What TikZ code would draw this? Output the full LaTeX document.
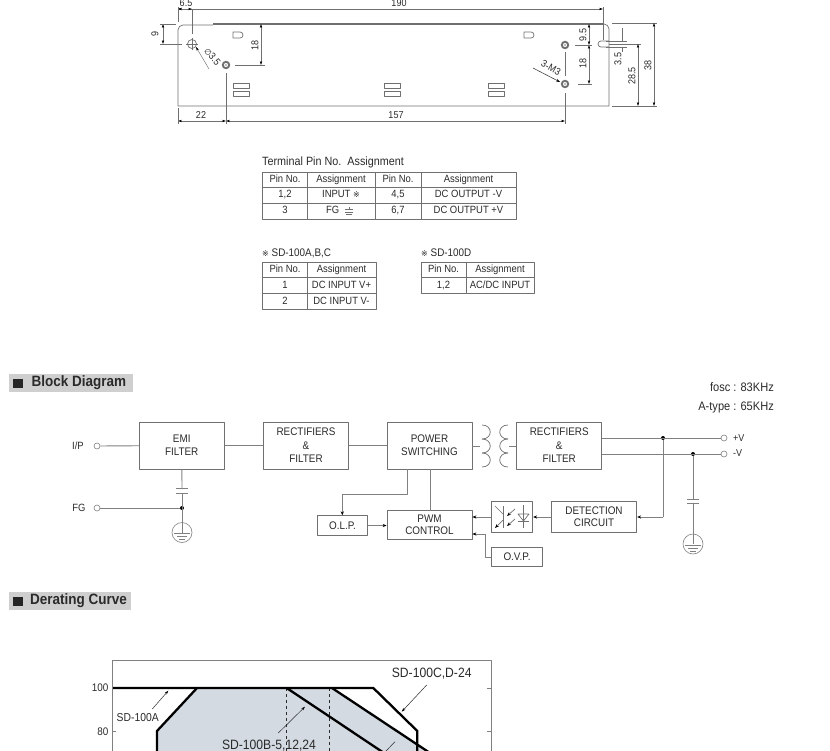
\documentclass[tikz,border=0pt]{standalone}
\usepackage{fontspec}
\setmainfont[FakeStretch=0.9]{Liberation Sans}
\newfontfamily\symfont{DejaVu Sans}
\usepackage{xcolor}
\usetikzlibrary{positioning,arrows.meta}
\definecolor{ink}{HTML}{2A2A2A}
\definecolor{wire}{HTML}{808080}
\definecolor{edge}{HTML}{707070}
\definecolor{bar}{HTML}{CFCFCF}
\definecolor{safe}{HTML}{D3DAE2}
\newcommand{\fsz}[1]{\fontsize{#1}{#1}\selectfont}

\begin{document}
\begin{tikzpicture}[x=1pt, y=-1pt, line join=round]
    % Define styles
    \tikzstyle{block} = [rectangle, draw=edge, text=ink, align=center, inner sep=0pt, font=\fsz{11}, line width=0.8pt]
    \tikzstyle{cell} = [rectangle, draw=edge, text=ink, inner sep=0pt, font=\fsz{10.5}, line width=0.7pt, text height=7.6pt, text depth=2.2pt]
    \tikzstyle{label} = [text=ink, inner sep=0pt, font=\fsz{10.5}]
    \tikzstyle{dimtext} = [text=ink, inner sep=0pt, font=\fsz{10}]
    \tikzstyle{heading} = [rectangle, fill=bar, minimum height=18pt, inner sep=0pt]
    \tikzstyle{terminal} = [circle, draw=wire, fill=white, minimum size=6pt, inner sep=0pt, line width=0.6pt]
    \tikzstyle{dot} = [circle, fill=black, minimum size=4pt, inner sep=0pt]
    \tikzstyle{earth} = [circle, draw=wire, minimum size=20pt, inner sep=0pt, line width=0.6pt]
    \tikzstyle{wireline} = [draw=wire, line width=0.9pt]
    \tikzstyle{arrow} = [wireline, -{Stealth[black, length=4pt, width=3.2pt]}]
    \tikzstyle{sheet} = [draw=edge, line width=0.7pt]
    \tikzstyle{dim} = [draw=edge, line width=0.45pt]
    \tikzstyle{dimarrow} = [dim, {Stealth[black, length=4pt, width=2.4pt]}-{Stealth[black, length=4pt, width=2.4pt]}]
    \tikzstyle{leader} = [draw=ink, line width=0.5pt, -{Stealth[black, length=4pt, width=2.6pt]}]
    \tikzstyle{curve} = [draw=black, line width=2.3pt, line cap=butt, line join=miter]

    \useasboundingbox (0,0) rectangle (830,750);

    % Mechanical outline
    \draw [sheet] (213,25) -- (183,25) arc[start angle=270, end angle=180, radius=5] -- (178,106) -- (609,106) -- (609,29) arc[start angle=0, end angle=-90, radius=5] -- (599,24);
    \draw [draw=edge, line width=1.3pt] (213,24) -- (604,24);
    \draw [sheet] (609,41) -- (601,41) arc[start angle=270, end angle=90, radius=3] -- (609,47);
    \foreach \x in {233,384,488} {
        \draw [sheet] (\x,83) rectangle ++(16,5);
        \draw [sheet] (\x,91) rectangle ++(16,5);
    }
    \foreach \x in {233,524} {
        \draw [sheet] (\x,32) -- (\x+7,32) arc[start angle=-90, end angle=90, radius=3] -- (\x,38) -- cycle;
    }

    % Holes
    \draw [sheet] (192,44) circle (4.5);
    \draw [dim] (186,44) -- (198,44) (192,38) -- (192,50);
    \foreach \x/\y in {226/65,565/45,565/84} {
        \draw [draw=edge, line width=1.9pt] (\x,\y) circle (3.2);
        \fill [edge!60] (\x,\y) circle (1.2);
    }

    % Dimensions
    \draw [dimarrow] (178,9) -- (603,9);
    \draw [dimarrow] (178,9) -- (192,9);
    \draw [dim] (178,7) -- (178,22) (603,7) -- (603,40) (192,9) -- (192,34);
    \node (dimA) [dimtext] at (186,3) {6.5};
    \node (dimB) [dimtext] at (399,3) {190};
    \draw [dimarrow] (163,24) -- (163,44);
    \draw [dim] (160,24) -- (176,24) (160,44) -- (182,44);
    \node (dimC) [dimtext, rotate=90] at (155,34) {9};
    \draw [dimarrow] (261,24) -- (261,65);
    \draw [dim] (235,65) -- (265,65);
    \node (dimD) [dimtext, rotate=90] at (255,45) {18};
    \draw [dim, {Stealth[black, length=4pt, width=2.4pt]}-] (196,47) -- (209,69);
    \node (dimE) [dimtext, rotate=-50] at (212.5,56.5) {{\symfont\fsz{8}∅}3.5};
    \draw [dimarrow] (178,121) -- (226,121);
    \draw [dimarrow] (226,121) -- (565,121);
    \draw [dim] (178,108) -- (178,124) (226,73) -- (226,124) (565,52) -- (565,76) (565,93) -- (565,124);
    \node (dimF) [dimtext] at (201,115) {22};
    \node (dimG) [dimtext] at (396,115) {157};
    \draw [dimarrow] (589,24) -- (589,45);
    \draw [dimarrow] (589,45) -- (589,84);
    \draw [dim] (575,45) -- (592,45) (578,84) -- (592,84);
    \node (dimH) [dimtext, rotate=90] at (583,35) {9.5};
    \node (dimI) [dimtext, rotate=90] at (583,63) {18};
    \draw [leader] (533,68) -- (560,82);
    \node (dimJ) [dimtext, rotate=-30] at (551,68) {3-M3};
    \draw [dim] (622.5,28) -- (622.5,41) (622.5,47) -- (622.5,52);
    \draw [dim] (606,41) -- (627,41) (606,47) -- (627,47);
    \node (dimK) [dimtext, rotate=90] at (618,59) {3.5};
    \draw [dim] (609,44) -- (641,44);
    \draw [dimarrow] (638,44) -- (638,106);
    \node (dimL) [dimtext, rotate=90] at (632,76) {28.5};
    \draw [dim] (612,23) -- (657,23) (612,106) -- (657,106);
    \draw [dimarrow] (654,23) -- (654,106);
    \node (dimM) [dimtext, rotate=90] at (648,65) {38};

    % Terminal table
    \node (pinTitle) [label, font=\fsz{12}, anchor=west] at (262,162) {Terminal Pin No.\ \ Assignment};
    \node (a1) [cell, minimum width=44.5pt, minimum height=15.5pt] at (285,179.7) {Pin No.};
    \node (a2) [cell, minimum width=68pt, minimum height=15.5pt] at (341,179.7) {Assignment};
    \node (a3) [cell, minimum width=46pt, minimum height=15.5pt] at (398,179.7) {Pin No.};
    \node (a4) [cell, minimum width=95pt, minimum height=15.5pt] at (468.5,179.7) {Assignment};
    \node (b1) [cell, minimum width=44.5pt, minimum height=16pt] at (285,195.2) {1,2};
    \node (b2) [cell, minimum width=68pt, minimum height=16pt] at (341,195.2) {INPUT {\symfont\fsz{8}※}};
    \node (b3) [cell, minimum width=46pt, minimum height=16pt] at (398,195.2) {4,5};
    \node (b4) [cell, minimum width=95pt, minimum height=16pt] at (468.5,195.2) {DC OUTPUT -V};
    \node (c1) [cell, minimum width=44.5pt, minimum height=16pt] at (285,211.2) {3};
    \node (c2) [cell, minimum width=68pt, minimum height=16pt, text width=56pt, align=left] at (341,211.2) {\hspace{13pt}FG};
    \node (c3) [cell, minimum width=46pt, minimum height=16pt] at (398,211.2) {6,7};
    \node (c4) [cell, minimum width=95pt, minimum height=16pt] at (468.5,211.2) {DC OUTPUT +V};
    \draw [dim] (349,207) -- (349,209.5) (345,209.5) -- (353,209.5) (345,212) -- (353,212) (346,214.5) -- (352,214.5);

    % Input tables
    \node (inTitleA) [label, font=\fsz{11}, anchor=west] at (262,253) {{\symfont\fsz{8}※} SD-100A,B,C};
    \node (d1) [cell, minimum width=44.5pt, minimum height=15.5pt] at (285,270) {Pin No.};
    \node (d2) [cell, minimum width=69pt, minimum height=15.5pt] at (341.5,270) {Assignment};
    \node (e1) [cell, minimum width=44.5pt, minimum height=16pt] at (285,285.5) {1};
    \node (e2) [cell, minimum width=69pt, minimum height=16pt] at (341.5,285.5) {DC INPUT V+};
    \node (f1) [cell, minimum width=44.5pt, minimum height=16pt] at (285,301.5) {2};
    \node (f2) [cell, minimum width=69pt, minimum height=16pt] at (341.5,301.5) {DC INPUT V-};
    \node (inTitleB) [label, font=\fsz{11}, anchor=west] at (421,253) {{\symfont\fsz{8}※} SD-100D};
    \node (g1) [cell, minimum width=45pt, minimum height=15.5pt] at (443.5,270) {Pin No.};
    \node (g2) [cell, minimum width=68pt, minimum height=15.5pt] at (500,270) {Assignment};
    \node (h1) [cell, minimum width=45pt, minimum height=16pt] at (443.5,285.5) {1,2};
    \node (h2) [cell, minimum width=68pt, minimum height=16pt] at (500,285.5) {AC/DC INPUT};

    % Block diagram heading
    \node (headBlock) [heading, minimum width=123.5pt, anchor=west] at (9,383) {};
    \fill [black!85] (13,379) rectangle (23,388);
    \node (headBlockText) [label, font=\bfseries\fsz{15}, anchor=west] at (31.5,383) {Block Diagram};
    \node (fosc) [label, font=\fsz{12.3}, anchor=east] at (774,387) {fosc : 83KHz};
    \node (atype) [label, font=\fsz{12.3}, anchor=east] at (774,407) {A-type : 65KHz};

    % Blocks
    \node (emi) [block, minimum width=85pt, minimum height=47pt] at (181.7,445.5) {EMI\\[2pt]FILTER};
    \node (rect_in) [block, minimum width=85.5pt, minimum height=47pt] at (306,445.5) {RECTIFIERS\\[2.5pt]\&\\[2.5pt]FILTER};
    \node (power) [block, minimum width=85pt, minimum height=47pt] at (429.5,445.5) {POWER\\[2pt]SWITCHING};
    \node (rect_out) [block, minimum width=85pt, minimum height=47pt] at (559.2,445.5) {RECTIFIERS\\[2.5pt]\&\\[2.5pt]FILTER};
    \node (olp) [block, minimum width=50.5pt, minimum height=19.5pt] at (342.5,525.5) {O.L.P.};
    \node (pwm) [block, minimum width=85pt, minimum height=28.5pt] at (429.5,525) {PWM\\[1pt]CONTROL};
    \node (ovp) [block, minimum width=50.5pt, minimum height=19.5pt] at (517,557) {O.V.P.};
    \node (opto) [block, minimum width=41.5pt, minimum height=30.5pt] at (512,517) {};
    \node (detect) [block, minimum width=85.5pt, minimum height=30.5pt] at (594,517) {DETECTION\\[1pt]CIRCUIT};

    % Terminals
    \node (ipLabel) [label, anchor=center] at (78,446) {I/P};
    \node (fgLabel) [label, anchor=center] at (79,508) {FG};
    \node (ip) [terminal] at (97,446) {};
    \node (fg) [terminal] at (97,508) {};
    \node (vplus) [terminal] at (724,438) {};
    \node (vminus) [terminal] at (724,454) {};
    \node (vplusLabel) [label, font=\fsz{10}, anchor=west] at (733,438) {+V};
    \node (vminusLabel) [label, font=\fsz{10}, anchor=west] at (733,453.5) {-V};
    \node (dotFg) [dot] at (182,508) {};
    \node (dotPlus) [dot] at (663,438) {};
    \node (dotMinus) [dot] at (693,454) {};
    \node (gndA) [earth] at (182,532.5) {};
    \node (gndB) [earth] at (693,544) {};
    \coordinate (capAtop) at (182,488);
    \coordinate (capAbot) at (182,493);
    \coordinate (capBtop) at (693,499);
    \coordinate (capBbot) at (693,503);
    \coordinate (coilL) at (480,446);
    \coordinate (coilR) at (509,446);
    \coordinate (olpBend) at (342.3,494);
    \coordinate (ovpBend) at (485,557);
    \coordinate (ovpEnd) at (485,534);
    \coordinate (detBend) at (663,517);

    % Wires
    \draw [wireline] (ip) -- (emi);
    \draw [wireline] (emi) -- (rect_in);
    \draw [wireline] (rect_in) -- (power);
    \draw [wireline] (power.east |- coilL) -- (coilL);
    \draw [wireline] (coilR) -- (rect_out.west |- coilR);
    \draw [wireline] (fg) -- (dotFg);
    \draw [wireline] (emi) -- (capAtop);
    \draw [wireline] (capAbot) -- (gndA.center);
    \draw [wireline] (rect_out.east |- vplus) -- (vplus);
    \draw [wireline] (rect_out.east |- vminus) -- (vminus);
    \draw [wireline] (dotMinus) -- (capBtop);
    \draw [wireline] (capBbot) -- (gndB.center);
    \draw [wireline] (407,469) -- (407,494) -- (olpBend);
    \draw [arrow] (olpBend) -- (olp.north -| olpBend);
    \draw [wireline] (430,469) -- (430,510.7);
    \draw [arrow] (olp) -- (pwm.west |- olp);
    \draw [arrow] (opto) -- (pwm.east |- opto);
    \draw [arrow] (detect) -- (opto);
    \draw [wireline] (dotPlus) -- (detBend);
    \draw [arrow] (detBend) -- (detect);
    \draw [wireline] (ovp) -- (ovpBend) -- (ovpEnd);
    \draw [arrow] (ovpEnd) -- (pwm.east |- ovpEnd);

    % Capacitor plates and earth marks
    \foreach \c in {capAtop,capAbot,capBtop,capBbot} {
        \draw [wireline] (\c) ++(-6,0) -- ++(12,0);
    }
    \foreach \g in {gndA,gndB} {
        \draw [wireline, line width=0.6pt] (\g.center) ++(-8,1) -- ++(16,0);
        \draw [wireline, line width=0.6pt] (\g.center) ++(-5,4) -- ++(10,0);
        \draw [wireline, line width=0.6pt] (\g.center) ++(-3,7) -- ++(6,0);
    }

    % Transformer
    \foreach \y in {425,439,453} {
        \draw [sheet] (482,\y) .. controls (493,\y) and (493,\y+14) .. (482,\y+14);
        \draw [sheet] (508,\y) .. controls (497,\y) and (497,\y+14) .. (508,\y+14);
    }

    % Optocoupler
    \draw [sheet] (503.5,506) -- (503.5,528);
    \draw [sheet] (495,506) -- (503,514);
    \draw [sheet, -{Stealth[black, length=4pt, width=3pt]}] (503,520) -- (495,528);
    \draw [sheet, -{Stealth[black, length=4pt, width=3pt]}] (515,509) -- (507,516);
    \draw [sheet, -{Stealth[black, length=4pt, width=3pt]}] (515,519) -- (507,526);
    \draw [sheet] (523.5,505) -- (523.5,528);
    \draw [sheet] (518,514) -- (529,514) -- (523.5,521) -- cycle;
    \draw [sheet] (518,521) -- (529,521);

    % Derating curve heading
    \node (headCurve) [heading, minimum width=122pt, anchor=west] at (9,601) {};
    \fill [black!85] (13,597) rectangle (23,606);
    \node (headCurveText) [label, font=\bfseries\fsz{15}, anchor=west] at (30,601) {Derating Curve};

    % Derating curve
    \begin{scope}
        \clip (0,650) rectangle (830,750);
        \fill [safe] (197,688) -- (332,688) -- (428,752) -- (157,752) -- (157,731) -- cycle;
        \draw [draw=wire, line width=0.7pt] (112.3,760) -- (112.3,660.7) -- (491.7,660.7) -- (491.7,760);
        \draw [draw=wire, line width=0.6pt] (112.3,731) -- (116,731) (487,688) -- (491.7,688) (487,731) -- (491.7,731);
        \draw [dim, dashed, draw=ink, line width=0.6pt] (286.7,688) -- (286.7,755) (329.3,688) -- (329.3,755);
        \draw [curve] (113,688) -- (373.3,688) -- (417.3,731) -- (417.3,755);
        \draw [curve] (197,688) -- (157,731) -- (157,755);
        \draw [curve] (286.7,688) -- (384,753);
        \draw [curve] (332,688) -- (430,753);
        \coordinate (leadA) at (152.3,709);
        \coordinate (leadAend) at (168.3,690.7);
        \coordinate (leadB) at (278.3,733);
        \coordinate (leadBend) at (305,706.7);
        \coordinate (leadC) at (426.7,685);
        \coordinate (leadCend) at (401.7,711.7);
        \coordinate (leadD) at (395,741.7);
        \coordinate (leadDend) at (385,752);
        \draw [leader] (leadA) -- (leadAend);
        \draw [leader] (leadB) -- (leadBend);
        \draw [leader] (leadC) -- (leadCend);
        \draw [draw=ink, line width=0.5pt] (leadD) -- (leadDend);
    \end{scope}
    \node (tick100) [label, font=\fsz{11}, anchor=east] at (108.5,688) {100};
    \node (tick80) [label, font=\fsz{11}, anchor=east] at (108.5,732) {80};
    \node (curveA) [label, font=\fsz{11.5}] at (137.7,718) {SD-100A};
    \node (curveB) [label, font=\fsz{13.5}] at (269,745.5) {SD-100B-5,12,24};
    \node (curveC) [label, font=\fsz{13.5}] at (431.7,674) {SD-100C,D-24};
\end{tikzpicture}
\end{document}
